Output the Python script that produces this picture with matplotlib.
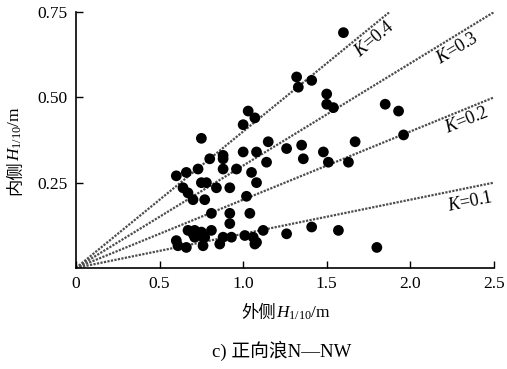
import matplotlib
matplotlib.use("Agg")
import matplotlib.pyplot as plt

plt.rcParams['font.family'] = ['Liberation Serif', 'Noto Sans CJK SC']
plt.rcParams['mathtext.fontset'] = 'custom'
plt.rcParams['mathtext.rm'] = 'Liberation Serif'
plt.rcParams['mathtext.it'] = 'Liberation Serif:italic'

# measured points (outer H1/10, inner H1/10)
outer = [1.60, 1.32, 1.33, 1.41, 1.50, 1.50, 1.54, 1.85, 1.93, 1.96,
         1.26, 1.35, 1.48, 1.67, 1.36, 1.51, 1.63, 1.26, 1.41, 1.57,
         1.80, 1.03, 1.07, 1.00, 0.75, 1.15, 1.00, 1.08, 0.88, 0.88,
         0.80, 1.14, 0.88, 0.73, 0.96, 0.66, 0.60, 1.05, 0.75, 0.78,
         1.08, 0.64, 0.84, 0.92, 0.67, 0.70, 0.77, 1.02, 0.81, 0.92,
         1.04, 0.92, 0.67, 0.71, 0.75, 0.81, 0.70, 0.76, 0.60, 0.88,
         0.93, 1.01, 1.06, 1.12, 0.61, 0.66, 0.76, 0.86, 1.07, 0.77,
         0.71, 1.08]
inner = [0.69, 0.56, 0.53, 0.55, 0.51, 0.48, 0.47, 0.48, 0.46, 0.39,
         0.35, 0.36, 0.34, 0.37, 0.32, 0.31, 0.31, 0.10, 0.12, 0.11,
         0.06, 0.46, 0.44, 0.42, 0.38, 0.37, 0.34, 0.34, 0.33, 0.32,
         0.32, 0.31, 0.29, 0.29, 0.29, 0.28, 0.27, 0.28, 0.25, 0.25,
         0.25, 0.235, 0.235, 0.235, 0.22, 0.20, 0.20, 0.21, 0.16, 0.16,
         0.16, 0.13, 0.11, 0.11, 0.105, 0.11, 0.10, 0.09, 0.08, 0.09,
         0.09, 0.095, 0.09, 0.11, 0.065, 0.06, 0.065, 0.07, 0.07, 0.09,
         0.09, 0.075]

k_values = [0.4, 0.3, 0.2, 0.1]
k_label_x = [1.79, 2.28, 2.34, 2.36]
k_label_y = [0.672, 0.642, 0.432, 0.192]
k_label_rot = [40, 31, 22, 11.5]

x_ticks = [0, 0.5, 1.0, 1.5, 2.0, 2.5]
x_tick_labels = ['0', '0.5', '1.0', '1.5', '2.0', '2.5']
y_ticks = [0.25, 0.50, 0.75]
y_tick_labels = ['0.25', '0.50', '0.75']

fig = plt.figure(figsize=(5.07, 3.69), dpi=100)
ax = fig.add_axes([0.150, 0.274, 0.824, 0.693])

for k in k_values:
    x_end = min(2.5, 0.75 / k)
    ax.plot([0, x_end], [0, k * x_end], color='0.3', linestyle=(0, (1, 0.6)),
            linewidth=1.6, zorder=2)

ax.scatter(outer, inner, s=60, color='black', edgecolors='none', zorder=3)

for k, tx, ty, rot in zip(k_values, k_label_x, k_label_y, k_label_rot):
    ax.text(tx, ty, r'$\mathit{K}$=%.1f' % k, fontsize=13, rotation=rot,
            ha='center', va='center', rotation_mode='anchor')

ax.set_xlim(0, 2.5)
ax.set_ylim(0, 0.75)
ax.set_xticks(x_ticks)
ax.set_xticklabels(x_tick_labels)
ax.set_yticks(y_ticks)
ax.set_yticklabels(y_tick_labels)
ax.tick_params(direction='in', length=5, width=1, labelsize=12.5, pad=6)
ax.spines['top'].set_visible(False)
ax.spines['right'].set_visible(False)
ax.spines['left'].set_linewidth(1.2)
ax.spines['bottom'].set_linewidth(1.2)

# x label: CJK part + math part
xl1 = fig.text(0.545, 0.152, '外侧', fontsize=12.5, family='Noto Sans CJK SC',
               ha='right', va='center')
ax.annotate(r'$\mathit{H}_{\mathrm{1/10}}$/m', xy=(1, 0.5), xycoords=xl1,
            fontsize=12.5, ha='left', va='center')

# y label: vertical
yl1 = fig.text(0.030, 0.565, '内侧', fontsize=12.5, family='Noto Sans CJK SC',
               rotation=90, ha='center', va='top')
ax.annotate(r'$\mathit{H}_{\mathrm{1/10}}$/m', xy=(0.5, 1), xycoords=yl1,
            fontsize=12.5, rotation=90, ha='center', va='bottom')

fig.text(0.555, 0.05, 'c) 正向浪N—NW', fontsize=13.5, ha='center', va='center')

fig.savefig('out.png', dpi=100)
